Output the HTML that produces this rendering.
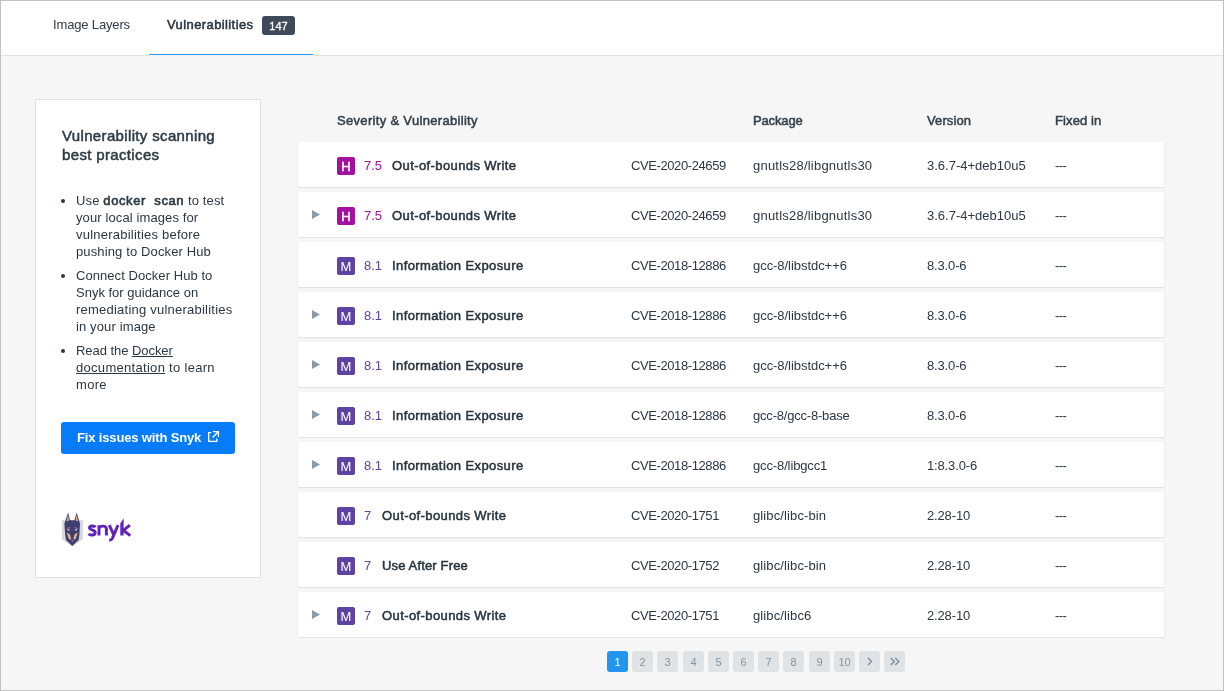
<!DOCTYPE html>
<html><head><meta charset="utf-8">
<style>
*{box-sizing:border-box;margin:0;padding:0}
html,body{width:1224px;height:691px;overflow:hidden;background:#f6f6f6}
body{font-family:"Liberation Sans",sans-serif;color:#27333d;position:relative}
.t,.h,.li,.btntxt,.th,.ti,.c,.sc,.sev,.pg,.badge147,.logo{will-change:transform}
.abs{position:absolute}
.frame{position:absolute;left:0;top:0;width:1224px;height:691px;border:1px solid #c3c3c3;pointer-events:none;z-index:10}
.header{position:absolute;left:0;top:0;width:1224px;height:56px;background:#fff;border-bottom:1px solid #dfe3e6}
.t{position:absolute;white-space:nowrap;font-size:13px;line-height:13px}
.tab1{left:53px;letter-spacing:-0.15px;top:18px;color:#2e3a45}
.tab2{left:167px;top:18px;letter-spacing:0.4px;color:#27333d;-webkit-text-stroke:0.5px #27333d}
.badge147{left:262px;top:16px;width:33px;height:19px;border-radius:3px;background:#3e4a59;color:#fff;font-size:11px;line-height:18px;padding-top:1px;text-align:center;-webkit-text-stroke:0.3px #fff}
.tabline{left:149px;top:54px;width:164px;height:2px;background:#2196f3}
.tabgap{left:149px;top:55px;width:164px;height:1px;background:#f6f6f6}

.card{position:absolute;left:35px;top:99px;width:226px;height:479px;background:#fff;border:1px solid #dde1e4;border-radius:2px}
.h{position:absolute;left:62px;letter-spacing:0.35px;font-size:15px;line-height:19px;color:#2d3943;-webkit-text-stroke:0.5px #2d3943;white-space:nowrap}
.li{position:absolute;left:76px;letter-spacing:0.1px;font-size:13px;line-height:17px;color:#2b3742;white-space:nowrap}
.bul{position:absolute;left:61px;width:4px;height:4px;border-radius:50%;background:#2d3943}
.u{text-decoration:underline}
.sb{-webkit-text-stroke:0.6px #2d3943;color:#2d3943;letter-spacing:0.6px}
.btn{position:absolute;left:61px;top:422px;width:174px;height:32px;border-radius:3px;background:#077cfb}
.btntxt{position:absolute;left:77px;letter-spacing:-0.15px;font-size:13px;font-weight:bold;color:#fff;line-height:13px;white-space:nowrap}

.th{position:absolute;top:114px;letter-spacing:0.1px;font-size:13px;line-height:13px;color:#323e48;-webkit-text-stroke:0.5px #323e48;white-space:nowrap}
.row{position:absolute;left:297px;width:868px;height:46px;background:#fff;border-radius:2px;border-left:1px solid #eceef1;border-right:1px solid #eceef1;border-bottom:1px solid #dfe3e6}
.tri{position:absolute;left:14px;top:18px;width:8px;height:9px;clip-path:polygon(0 0,100% 50%,0 100%);background:#8a9aa9}
.sev{position:absolute;left:39px;top:15px;width:18px;height:18px;border-radius:2px;color:#fff;font-size:13px;line-height:20px;text-align:center}
.hi{background:#a411a0;-webkit-text-stroke:0.45px #fff}
.me{background:#5f43a3}
.sc{position:absolute;left:66px;top:17px;font-size:13px;line-height:13px}
.sch{color:#a411a0}
.scm{color:#5f43a3}
.ti{position:absolute;top:17px;font-size:13px;line-height:13px;letter-spacing:0.4px;color:#27333d;-webkit-text-stroke:0.5px #27333d;white-space:nowrap}
.c{position:absolute;top:17px;font-size:13px;line-height:13px;color:#2b3742;white-space:nowrap}
.c1{left:333px;letter-spacing:-0.4px}.c2{left:455px}.c3{left:629px;letter-spacing:-0.15px}.c4{left:757px;letter-spacing:-0.6px}

.pg{position:absolute;top:651px;width:21px;height:21px;border-radius:3px;background:#dfe3e6;color:#8693a0;font-size:11px;line-height:22px;text-align:center}
.pg.on{background:#2395ef;color:#fff}
.pg svg{position:absolute;left:0;top:0}
</style></head>
<body>
<div class="header"></div>
<div class="abs tabline"></div>
<div class="abs tabgap"></div>
<div class="t tab1">Image Layers</div>
<div class="t tab2">Vulnerabilities</div>
<div class="abs badge147">147</div>

<div class="card"></div>
<div class="h" style="top:126px">Vulnerability scanning</div>
<div class="h" style="top:145px">best practices</div>

<div class="bul" style="top:199px"></div>
<div class="li" style="top:192px;letter-spacing:0.14px">Use <span class="sb">docker&nbsp; scan</span> to test</div>
<div class="li" style="top:209px;letter-spacing:0.11px">your local images for</div>
<div class="li" style="top:226px;letter-spacing:0.23px">vulnerabilities before</div>
<div class="li" style="top:243px;letter-spacing:0.13px">pushing to Docker Hub</div>
<div class="bul" style="top:274px"></div>
<div class="li" style="top:267px;letter-spacing:0.06px">Connect Docker Hub to</div>
<div class="li" style="top:284px;letter-spacing:0.0px">Snyk for guidance on</div>
<div class="li" style="top:301px;letter-spacing:0.23px">remediating vulnerabilities</div>
<div class="li" style="top:318px;letter-spacing:0.13px">in your image</div>
<div class="bul" style="top:349px"></div>
<div class="li" style="top:342px;letter-spacing:-0.05px">Read the <span class="u">Docker</span></div>
<div class="li" style="top:359px;letter-spacing:0.3px"><span class="u">documentation</span> to learn</div>
<div class="li" style="top:376px;letter-spacing:0.3px">more</div>

<div class="btn"></div>
<div class="btntxt" style="top:431px">Fix issues with Snyk</div>
<svg class="abs" style="left:206px;top:429px" width="15" height="15" viewBox="0 0 15 15" fill="none" stroke="#fff" stroke-width="1.35">
<path d="M5.2 3.6H2.7V12.3H10.8V9.6"/><path d="M6.6 8.4L12.2 2.8"/><path d="M7 2.6H12.4V8"/></svg>

<!-- logo -->
<svg class="abs" style="left:58px;top:509px" width="30" height="40" viewBox="0 0 30 40">
<path d="M3.8 11.3H24.9V30L14.3 37.5L3.8 30z" fill="#d8d8d8"/>
<path d="M12 11.2H16.5V14H12z" fill="#ececec"/>
<path d="M6.4 14.5L10.1 3.5L12 11.2H16.5L18.6 3.5L22 14.5L21.4 26L20.6 31L14.3 37L8 31L7.2 26z" fill="#3f3e71"/>
<path d="M8.4 12.5L10 5.8L11 11.5z M20.1 12.5L18.6 5.8L17.6 11.5z" fill="#dfb088"/>
<path d="M8.6 19.2L11.8 18.2L11.9 18.9L9 19.8z M19.9 19.2L16.7 18.2L16.6 18.9L19.5 19.8z" fill="#c9a07f"/>
<path d="M9.3 20.6L11.6 20.1L11.2 21.4L9.6 21.4z M19.2 20.6L16.9 20.1L17.3 21.4L18.9 21.4z" fill="#d9d9ea"/>
<path d="M8.6 23.5L12 25.5L13.2 30.5L11 30.3z M19.9 23.5L16.5 25.5L15.3 30.5L17.5 30.3z" fill="#e2b48c"/>
<path d="M13.2 31.6H15.3L14.3 33z" fill="#d9aa85"/>
</svg>
<svg class="abs" style="left:86px;top:514px" width="48" height="30" viewBox="86 514 48 30" fill="none" stroke="#5f23b9" stroke-width="2.95">
<path d="M95.4 527.2C94.6 525.7 89.6 525.2 89.5 527.9C89.4 530.3 95.3 529.6 95.2 532.6C95.1 535.6 90 535.6 88.6 533.9"/>
<path d="M99 535.6V525.2M99 528.3C99.6 525.9 106.4 524.8 106.4 528.7V535.6"/>
<path d="M109.3 525.2L114 535.4M118 525.2L112.4 538.3C111.6 539.9 110.4 540.1 109.2 539.9"/>
<path d="M129.9 525.2L123.4 530.4L130.3 535.6" stroke-width="3"/>
<path d="M120.3 535.6V523.6L123.6 518.3V535.6Z" fill="#5e22b8" stroke="none"/>
</svg>

<!-- table header -->
<div class="th" style="left:337px;letter-spacing:0.32px">Severity &amp; Vulnerability</div>
<div class="th" style="left:753px;letter-spacing:-0.15px">Package</div>
<div class="th" style="left:927px">Version</div>
<div class="th" style="left:1055px">Fixed in</div>

<!-- rows -->

<div class="row" style="top:142px"><div class="sev hi">H</div><div class="sc sch">7.5</div><div class="ti" style="left:94px">Out-of-bounds Write</div><div class="c c1">CVE-2020-24659</div><div class="c c2" style="letter-spacing:0.22px">gnutls28/libgnutls30</div><div class="c c3" style="letter-spacing:0">3.6.7-4+deb10u5</div><div class="c c4">---</div></div>
<div class="row" style="top:192px"><div class="tri"></div><div class="sev hi">H</div><div class="sc sch">7.5</div><div class="ti" style="left:94px">Out-of-bounds Write</div><div class="c c1">CVE-2020-24659</div><div class="c c2" style="letter-spacing:0.22px">gnutls28/libgnutls30</div><div class="c c3" style="letter-spacing:0">3.6.7-4+deb10u5</div><div class="c c4">---</div></div>
<div class="row" style="top:242px"><div class="sev me">M</div><div class="sc scm">8.1</div><div class="ti" style="left:94px">Information Exposure</div><div class="c c1">CVE-2018-12886</div><div class="c c2" style="letter-spacing:-0.05px">gcc-8/libstdc++6</div><div class="c c3">8.3.0-6</div><div class="c c4">---</div></div>
<div class="row" style="top:292px"><div class="tri"></div><div class="sev me">M</div><div class="sc scm">8.1</div><div class="ti" style="left:94px">Information Exposure</div><div class="c c1">CVE-2018-12886</div><div class="c c2" style="letter-spacing:-0.05px">gcc-8/libstdc++6</div><div class="c c3">8.3.0-6</div><div class="c c4">---</div></div>
<div class="row" style="top:342px"><div class="tri"></div><div class="sev me">M</div><div class="sc scm">8.1</div><div class="ti" style="left:94px">Information Exposure</div><div class="c c1">CVE-2018-12886</div><div class="c c2" style="letter-spacing:-0.05px">gcc-8/libstdc++6</div><div class="c c3">8.3.0-6</div><div class="c c4">---</div></div>
<div class="row" style="top:392px"><div class="tri"></div><div class="sev me">M</div><div class="sc scm">8.1</div><div class="ti" style="left:94px">Information Exposure</div><div class="c c1">CVE-2018-12886</div><div class="c c2" style="letter-spacing:-0.2px">gcc-8/gcc-8-base</div><div class="c c3">8.3.0-6</div><div class="c c4">---</div></div>
<div class="row" style="top:442px"><div class="tri"></div><div class="sev me">M</div><div class="sc scm">8.1</div><div class="ti" style="left:94px">Information Exposure</div><div class="c c1">CVE-2018-12886</div><div class="c c2" style="letter-spacing:-0.13px">gcc-8/libgcc1</div><div class="c c3">1:8.3.0-6</div><div class="c c4">---</div></div>
<div class="row" style="top:492px"><div class="sev me">M</div><div class="sc scm">7</div><div class="ti" style="left:84px">Out-of-bounds Write</div><div class="c c1">CVE-2020-1751</div><div class="c c2" style="letter-spacing:0.12px">glibc/libc-bin</div><div class="c c3">2.28-10</div><div class="c c4">---</div></div>
<div class="row" style="top:542px"><div class="sev me">M</div><div class="sc scm">7</div><div class="ti" style="left:84px;letter-spacing:0.15px">Use After Free</div><div class="c c1">CVE-2020-1752</div><div class="c c2" style="letter-spacing:0.12px">glibc/libc-bin</div><div class="c c3">2.28-10</div><div class="c c4">---</div></div>
<div class="row" style="top:592px"><div class="tri"></div><div class="sev me">M</div><div class="sc scm">7</div><div class="ti" style="left:84px">Out-of-bounds Write</div><div class="c c1">CVE-2020-1751</div><div class="c c2" style="letter-spacing:0.12px">glibc/libc6</div><div class="c c3">2.28-10</div><div class="c c4">---</div></div>

<!-- pagination -->
<div class="pg on" style="left:607.0px">1</div>
<div class="pg" style="left:632.2px">2</div>
<div class="pg" style="left:657.4px">3</div>
<div class="pg" style="left:682.6px">4</div>
<div class="pg" style="left:707.8px">5</div>
<div class="pg" style="left:733.0px">6</div>
<div class="pg" style="left:758.2px">7</div>
<div class="pg" style="left:783.4px">8</div>
<div class="pg" style="left:808.6px">9</div>
<div class="pg" style="left:833.8px">10</div>
<div class="pg" style="left:859.0px"><svg width="21" height="21" viewBox="0 0 21 21" fill="none" stroke="#7d8b98" stroke-width="1.35"><path d="M9 7l3.5 3.5L9 14"/></svg></div>
<div class="pg" style="left:884.2px"><svg width="21" height="21" viewBox="0 0 21 21" fill="none" stroke="#7d8b98" stroke-width="1.35"><path d="M6.8 7l3.5 3.5L6.8 14M11.3 7l3.5 3.5L11.3 14"/></svg></div>

<div class="frame"></div>
</body></html>
